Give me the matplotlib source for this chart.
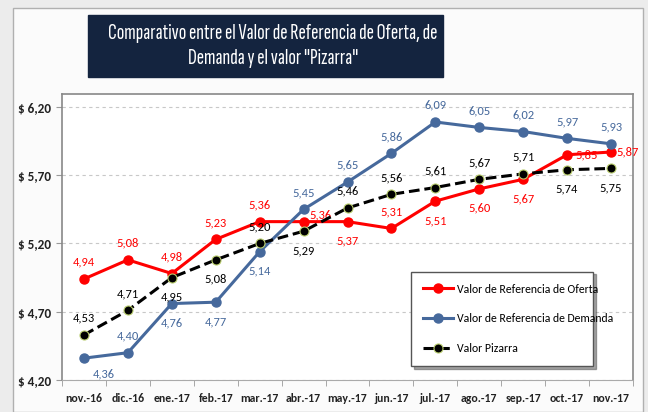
import matplotlib
matplotlib.use("Agg")
import matplotlib.pyplot as plt
from matplotlib.patches import Rectangle
from matplotlib.ticker import FuncFormatter

plt.rcParams['font.family'] = ['Carlito', 'DejaVu Sans']

meses = ['nov.-16', 'dic.-16', 'ene.-17', 'feb.-17', 'mar.-17', 'abr.-17', 'may.-17',
         'jun.-17', 'jul.-17', 'ago.-17', 'sep.-17', 'oct.-17', 'nov.-17']
oferta = [4.94, 5.08, 4.98, 5.23, 5.36, 5.36, 5.36, 5.31, 5.51, 5.60, 5.67, 5.85, 5.87]
oferta_txt = ['4,94', '5,08', '4,98', '5,23', '5,36', '5,36', '5,37', '5,31', '5,51', '5,60', '5,67', '5,85', '5,87']
demanda = [4.36, 4.40, 4.76, 4.77, 5.14, 5.45, 5.65, 5.86, 6.09, 6.05, 6.02, 5.97, 5.93]
pizarra = [4.53, 4.71, 4.95, 5.08, 5.20, 5.29, 5.46, 5.56, 5.61, 5.67, 5.71, 5.74, 5.75]

# label offsets in points (dx, dy)
of_off = [(0, 12), (0, 12), (0, 12), (0, 12), (0, 12), (12, 5), (0, -14), (0, 12),
          (0, -14), (0, -14), (0, -14), (14, 0), (12, 0)]
de_off = [(14, -11), (0, 12), (0, -14), (0, -14), (0, -14), (0, 12), (0, 12), (0, 12),
          (0, 12), (0, 12), (0, 12), (0, 12), (0, 12)]
pi_off = [(0, 12), (0, 12), (0, -14), (0, -14), (0, 12), (0, -14), (0, 12), (0, 12),
          (0, 12), (0, 12), (0, 12), (0, -14), (0, -14)]

rojo = '#ff0000'
azul = '#46699c'

fig = plt.figure(figsize=(6.48, 4.12), dpi=100)
fig.patch.set_facecolor('#ececec')
fig.patches.append(Rectangle((13/648, 0), 630/648, 1 - 8/412, transform=fig.transFigure,
                             facecolor='#fbfbfb', edgecolor='#b0b0b0', lw=1.0, zorder=-2))
fig.patches.append(Rectangle((88/648, 1 - 77/412), 355/648, 62/412, transform=fig.transFigure,
                             facecolor='#14243f', edgecolor='#14243f', zorder=-1))
fig.text(273/648, 1 - 46/412, 'Comparativo entre el Valor de Referencia de Oferta, de\nDemanda y el valor "Pizarra"',
         color='white', fontsize=16, ha='center', va='center', linespacing=1.35,
         family=['Sofia Sans Extra Condensed', 'Carlito'], weight='semibold')

ax = fig.add_axes([62/648, 32/412, 571/648, 286/412])
ax.set_zorder(2)
x = list(range(len(meses)))

ax.plot(x, oferta, color=rojo, lw=2.2, marker='o', ms=6.5, label='Valor de Referencia de Oferta', zorder=3)
ax.plot(x, demanda, color=azul, lw=2.2, marker='o', ms=6.5, label='Valor de Referencia de Demanda', zorder=3)
ax.plot(x, pizarra, color='black', lw=2.2, ls=(0, (3.5, 1.6)), marker='o', ms=6.5,
        markeredgecolor='#b8cc6c', markeredgewidth=0.8, label='Valor Pizarra', zorder=4)

for i in x:
    ax.annotate(oferta_txt[i], (i, oferta[i]), xytext=of_off[i], textcoords='offset points',
                ha='center', va='center', color=rojo, fontsize=9)
    ax.annotate(f'{demanda[i]:.2f}'.replace('.', ','), (i, demanda[i]), xytext=de_off[i],
                textcoords='offset points', ha='center', va='center', color=azul, fontsize=9)
    ax.annotate(f'{pizarra[i]:.2f}'.replace('.', ','), (i, pizarra[i]), xytext=pi_off[i],
                textcoords='offset points', ha='center', va='center', color='black', fontsize=9)

ax.set_xlim(-0.5, 12.5)
ax.set_ylim(4.20, 6.295)
ax.set_yticks([4.20, 4.70, 5.20, 5.70, 6.20])
ax.yaxis.set_major_formatter(FuncFormatter(lambda v, p: '$ ' + f'{v:.2f}'.replace('.', ',')))
ax.set_xticks(x)
ax.set_xticklabels(meses)
ax.set_xticks([i + 0.5 for i in range(-1, 13)], minor=True)
ax.tick_params(axis='x', which='major', length=0, pad=9, labelsize=8.5, labelcolor='#222222')
ax.tick_params(axis='x', which='minor', length=4, color='#999999')
ax.tick_params(axis='y', length=4, color='#999999', labelsize=9.5, labelcolor='#222222', pad=4)
for lbl in ax.get_xticklabels() + ax.get_yticklabels():
    lbl.set_fontweight('bold')
ax.grid(axis='y', ls=(0, (3, 3)), color='#c8c8c8', lw=0.8)
for s in ax.spines.values():
    s.set_color('#888888')
    s.set_linewidth(1.2)
ax.spines['bottom'].set_color('#aaaaaa')
ax.spines['bottom'].set_linewidth(0.8)

leg = ax.legend(loc='lower left', bbox_to_anchor=(343/571, 8/286, 194/571, 100/286), mode='expand',
                fontsize=8.5, frameon=True, fancybox=False, shadow=True, labelspacing=1.6,
                borderpad=1.0, handlelength=2.6, handletextpad=0.3)
leg.get_frame().set_edgecolor('#555555')
leg.get_frame().set_linewidth(1.0)

fig.savefig('out.png', dpi=100)
